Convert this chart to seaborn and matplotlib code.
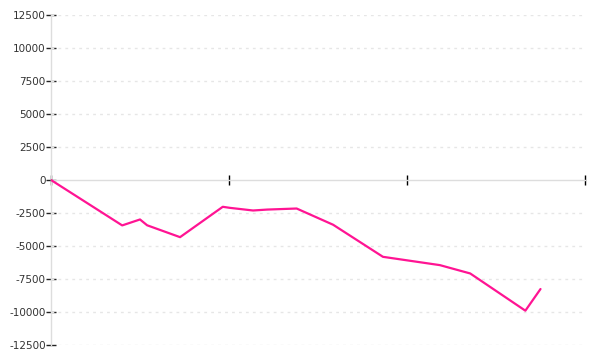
import matplotlib
matplotlib.use("Agg")
import matplotlib.pyplot as plt
import seaborn as sns
import pandas as pd

# data
x_values = [0.0, 0.40, 0.50, 0.54, 0.725, 0.965, 1.005, 1.135, 1.215, 1.38, 1.585,
            1.865, 2.185, 2.355, 2.665, 2.75]
y_values = [0, -3440, -2990, -3430, -4330, -2030, -2110, -2310, -2240, -2160, -3390,
            -5820, -6450, -7080, -9900, -8260]
x_ticks = [0, 1, 2, 3]
y_ticks = [-12500, -10000, -7500, -5000, -2500, 0, 2500, 5000, 7500, 10000, 12500]

sns.set_theme(style="white")
plt.rcParams['font.family'] = ['DejaVu Sans']
plt.rcParams['axes.unicode_minus'] = False

df = pd.DataFrame({"x": x_values, "y": y_values})

fig = plt.figure(figsize=(6, 3.6), dpi=100)
ax = fig.add_axes([51/600, 1 - 345/360, (585 - 51)/600, 330/360])

sns.lineplot(data=df, x="x", y="y", sort=False, color="#ff1493", linewidth=1.6, ax=ax,
             zorder=3)

ax.set_xlim(0, 3)
ax.set_ylim(-12500, 12500)
ax.set_xticks(x_ticks)
ax.set_xticklabels([])
ax.set_yticks(y_ticks)
ax.set_yticklabels([str(v) for v in y_ticks])
ax.set_xlabel("")
ax.set_ylabel("")

for v in y_ticks:
    if v != 0:
        ax.axhline(v, color="#e6e6e6", linewidth=1, linestyle=(0, (2, 3)), zorder=1)

for s in ["top", "right"]:
    ax.spines[s].set_visible(False)
ax.spines["left"].set_color("#dddddd")
ax.spines["left"].set_linewidth(1)
ax.spines["bottom"].set_position(("data", 0))
ax.spines["bottom"].set_color("#dddddd")
ax.spines["bottom"].set_linewidth(1)

ax.tick_params(axis="y", direction="inout", length=7.5, width=1, color="#222222",
               labelsize=7.5, labelcolor="#333333", pad=0, left=True)
ax.tick_params(axis="x", direction="inout", length=6.5, width=1, color="#000000",
               bottom=True)
ax.grid(False)

fig.savefig("out.png", dpi=100, facecolor="white")
